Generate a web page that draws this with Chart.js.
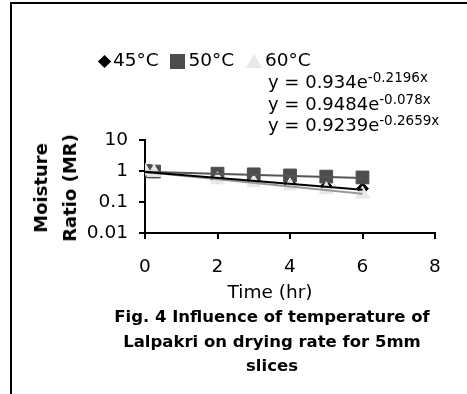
<!DOCTYPE html>
<html>
<head>
<meta charset="utf-8">
<script src="https://cdn.jsdelivr.net/npm/chart.js@4.4.1/dist/chart.umd.min.js"></script>
<style>
  html, body { margin: 0; padding: 0; background: #fff; }
  #wrap { position: relative; width: 467px; height: 394px; overflow: hidden; font-family: "DejaVu Sans", sans-serif; color: #000; }
  #frame { position: absolute; left: 10px; top: 2px; width: 470px; height: 400px; border-top: 2px solid #000; border-left: 2px solid #000; }
  canvas { position: absolute; left: 0; top: 0; }
  .txt { position: absolute; white-space: nowrap; }
  #legend { left: 99px; top: 49px; font-size: 18.5px; }
  #legend span.mk { display: inline-block; vertical-align: middle; margin-right: 3px; }
  .eq { left: 268px; font-size: 18px; line-height: 22px; }
  .eq sup { font-size: 13.5px; vertical-align: 6px; line-height: 0; }
  #ytitle { left: 55px; top: 188px; font-weight: bold; font-size: 18px; line-height: 29px; text-align: center; transform: translate(-50%, -50%) rotate(-90deg); }
  #xtitle { left: 270px; top: 281px; transform: translateX(-50%); font-size: 18.5px; }
  #caption { left: 272px; top: 305px; transform: translateX(-50%); font-weight: bold; font-size: 16.5px; line-height: 24.5px; text-align: center; }
</style>
</head>
<body>
<div id="wrap">
  <div id="frame"></div>
  <canvas id="c" width="467" height="394"></canvas>
  <div class="txt" id="legend"></div>
  <div class="txt" id="ytitle">Moisture<br>Ratio (MR)</div>
  <div class="txt" id="xtitle">Time (hr)</div>
  <div class="txt" id="caption">Fig. 4 Influence of temperature of<br>Lalpakri on drying rate for 5mm<br>slices</div>
</div>
<script>
// data
const times = [0, 0.25, 2, 3, 4, 5, 6];
const mr45 = [1.0, 0.92, 0.60, 0.48, 0.39, 0.32, 0.27];
const mr50 = [1.0, 0.96, 0.82, 0.78, 0.72, 0.66, 0.62];
const mr60 = [1.0, 0.90, 0.52, 0.42, 0.33, 0.25, 0.18];
const seriesNames = ['45°C', '50°C', '60°C'];

// trend line ends (exponential fits shown on the chart)
const trendX = [0, 6];
const trend45 = [0.934, 0.25];
const trend50 = [0.9484, 0.594];
const trend60 = [0.9239, 0.186];
const equations = [
  ['0.934', '-0.2196x'],
  ['0.9484', '-0.078x'],
  ['0.9239', '-0.2659x']
];

const xTicks = [0, 2, 4, 6, 8];
const yTicks = [0.01, 0.1, 1, 10];

const pts = (xs, ys) => xs.map((x, i) => ({ x: x, y: ys[i] }));

// legend + equations as page text
const marks = [
  '<span class="mk" style="width:11px;height:11px;background:#000;transform:rotate(45deg) scale(0.85);"></span>',
  '<span class="mk" style="width:15px;height:15px;background:#4d4d4d;"></span>',
  '<span class="mk" style="width:0;height:0;border-left:8px solid transparent;border-right:8px solid transparent;border-bottom:14px solid #e8e8e8;"></span>'
];
document.getElementById('legend').innerHTML = seriesNames
  .map((n, i) => marks[i] + n).join('&nbsp;&nbsp;');
const wrap = document.getElementById('wrap');
equations.forEach((e, i) => {
  const d = document.createElement('div');
  d.className = 'txt eq';
  d.style.top = (71 + i * 21.5) + 'px';
  d.innerHTML = 'y = ' + e[0] + 'e<sup>' + e[1] + '</sup>';
  wrap.appendChild(d);
});

const trendLine = (data, color) => ({
  data: data, showLine: true, borderColor: color, borderWidth: 2,
  pointRadius: 0, fill: false, order: 0
});

new Chart(document.getElementById('c'), {
  type: 'scatter',
  data: {
    datasets: [
      { label: seriesNames[0], data: pts(times, mr45), pointStyle: 'rectRot', pointRadius: 6,
        backgroundColor: '#000', borderColor: '#000', order: 3 },
      { label: seriesNames[1], data: pts(times, mr50), pointStyle: 'rect', pointRadius: 9,
        backgroundColor: '#4d4d4d', borderColor: '#4d4d4d', order: 2 },
      { label: seriesNames[2], data: pts(times, mr60), pointStyle: 'triangle', pointRadius: 8,
        backgroundColor: '#e8e8e8', borderColor: '#e8e8e8', order: 1 },
      trendLine(pts(trendX, trend45), '#000'),
      trendLine(pts(trendX, trend50), '#555'),
      trendLine(pts(trendX, trend60), '#999')
    ]
  },
  options: {
    responsive: false,
    animation: false,
    layout: { padding: { left: 85, top: 140, right: 32, bottom: 111 } },
    plugins: { legend: { display: false }, tooltip: { enabled: false } },
    scales: {
      x: {
        type: 'linear', min: 0, max: 8,
        afterBuildTicks: s => { s.ticks = xTicks.map(v => ({ value: v })); },
        afterFit: s => { s.height = 50; },
        grid: { drawOnChartArea: false, drawTicks: true, tickLength: 6, color: '#000', lineWidth: 2 },
        border: { color: '#000', width: 2 },
        ticks: { color: '#000', padding: 17, font: { family: 'DejaVu Sans', size: 18.5 } }
      },
      y: {
        type: 'logarithmic', min: 0.01, max: 10,
        afterBuildTicks: s => { s.ticks = yTicks.map(v => ({ value: v })); },
        afterFit: s => { s.width = 60; },
        grid: { drawOnChartArea: false, drawTicks: true, tickLength: 6, color: '#000', lineWidth: 2 },
        border: { color: '#000', width: 2 },
        ticks: { color: '#000', padding: 11, font: { family: 'DejaVu Sans', size: 18.5 },
          callback: v => String(v) }
      }
    }
  }
});
</script>
</body>
</html>
